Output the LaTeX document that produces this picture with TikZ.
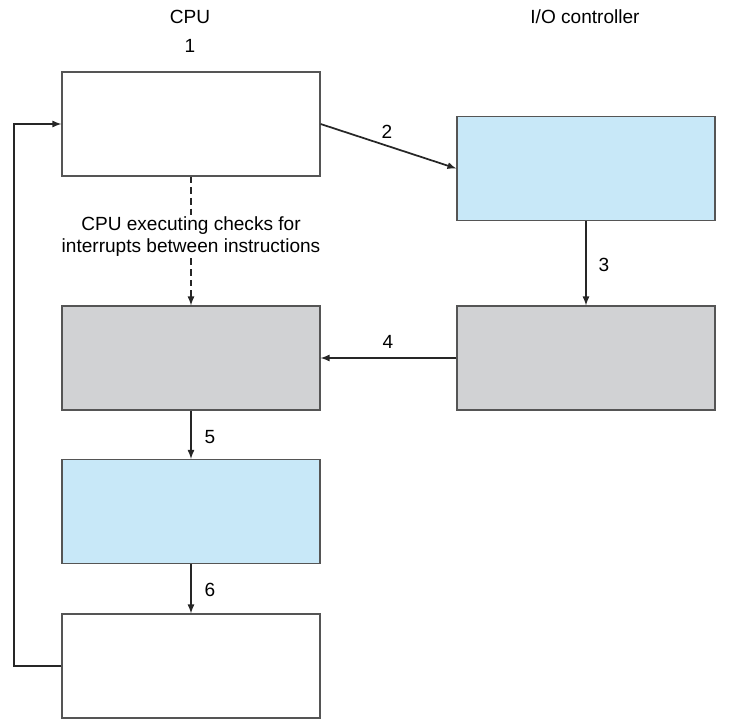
\documentclass[tikz,border=0pt]{standalone}
\usepackage{fontspec}
\setmainfont{Liberation Sans}
\usetikzlibrary{positioning,arrows}

\definecolor{boxblue}{HTML}{C8E8F8}
\definecolor{boxgray}{HTML}{D1D2D4}
\definecolor{edge}{HTML}{555555}

\tikzset{
  stagebox/.style={draw=edge, line width=0.9pt, minimum width=193.5pt, minimum height=78pt, inner sep=0pt},
  flow/.style={-latex, line width=1.3pt, black!85},
  numlab/.style={font=\fontsize{14.3}{16.5}\selectfont, inner sep=0.4mm}
}

\begin{document}
\begin{tikzpicture}[x=0.75pt,y=-0.75pt,font=\fontsize{14.3}{16.5}\selectfont]

\useasboundingbox (0,0) rectangle (740,724);

% column titles
\node (cpu) at (190,17) {CPU};
\node (ioc) at (585,17) {I/O controller};

% boxes
\node [stagebox, fill=white] (start) at (191,124) {};
\node [stagebox, fill=boxblue] (devstart) at (586,168.5) {};
\node [stagebox, fill=boxgray] (devdone) at (586,358) {};
\node [stagebox, fill=boxgray] (recv) at (191,358) {};
\node [stagebox, fill=boxblue] (handler) at (191,511.5) {};
\node [stagebox, fill=white] (resume) at (191,666) {};

\node [align=center, inner sep=1pt] (check) at (191,237) {CPU executing checks for\\interrupts between instructions};

\coordinate (back) at (14,400);

% connectors
\draw [flow] (start.east) -- (devstart.west);
\draw [flow] (devstart.south) -- (devdone.north);
\draw [flow] (devdone.west) -- (recv.east);
\draw [flow] (recv.south) -- (handler.north);
\draw [flow] (handler.south) -- (resume.north);
\draw [flow] (resume.west) -| (back) |- (start.west);

\draw [line width=1.3pt, black!85, dash pattern=on 5pt off 3pt] (start.south) -- (check.north);
\draw [flow, dash pattern=on 5pt off 3pt] (check.south) -- (recv.north);

% step numbers
\node [numlab] (n1) at (190,46) {1};
\node [numlab] (n2) at (387,132) {2};
\node [numlab] (n3) at (604,265) {3};
\node [numlab] (n4) at (388,342) {4};
\node [numlab] (n5) at (210,437) {5};
\node [numlab] (n6) at (210,590) {6};

\end{tikzpicture}
\end{document}
